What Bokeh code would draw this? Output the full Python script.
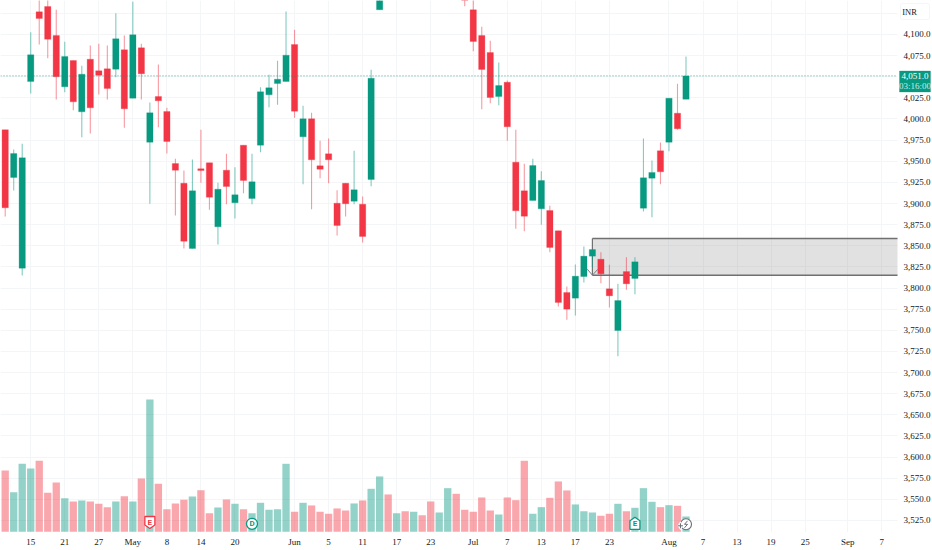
from bokeh.plotting import figure
from bokeh.models import (ColumnDataSource, Range1d, LinearAxis, FixedTicker, NumeralTickFormatter,
                          BoxAnnotation, Label)
from bokeh.core.properties import value
from bokeh.embed import file_html
from bokeh.resources import INLINE

# daily candles: red/green is derived from open vs close
opens = [3987.2,3930.8,3823.5,4044.4,4126.8,4133.1,4098.8,4038.1,4069.2,4008.5,4070.7,4057.0,4059.4,4058.9,4081.9,4024.6,4084.2,
         3972.5,4026.6,4008.9,3947.3,3924.0,3846.8,3941.1,3948.2,3872.4,3939.4,3900.8,3969.0,3905.9,3969.0,4028.6,4042.0,4044.4,
         4088.1,3978.9,4000.2,3944.6,3958.8,3900.4,3924.0,3902.7,3899.2,3928.4,4129.2,
         4178,4160,4172,4165,4180,4172,4160,4175,4195,4175,
         4129.2,4098.8,4078.7,4026.6,4043.5,3948.9,3915.0,3903.6,3893.7,3891.7,3867.7,3794.7,3788.0,3813.6,3837.7,3834.1,3799.1,
         3749.7,3819.5,3811.3,3894.5,3930.0,3962.4,3972.5,4006.9,4023.4]
closes = [3894.9,3959.2,3954.1,4076.0,4118.9,4094.4,4049.9,4073.9,4020.3,4053.0,4013.2,4051.8,4036.0,4094.9,4012.0,4099.6,4053.5,
          4007.3,4021.5,3973.4,3939.4,3855.4,3915.0,3939.0,3907.5,3916.9,3920.1,3910.3,3927.2,3925.7,4032.2,4036.9,4047.1,4075.5,
          4009.2,4000.2,3951.7,3940.6,3951.7,3874.0,3899.7,3916.2,3861.0,4048.3,4175,
          4160,4172,4165,4180,4172,4160,4175,4195,4175,4150,
          4091.7,4058.6,4025.4,4039.6,3990.8,3891.4,3885.0,3945.0,3927.2,3848.0,3782.9,3775.0,3814.0,3837.7,3845.6,3816.8,3790.8,
          3785.2,3805.0,3831.0,3930.4,3936.7,3937.5,4024.6,3988.4,4051.0]
highs = [3987.2,3963.9,3970.6,4102.7,4143.7,4146.0,4129.2,4091.3,4069.2,4062.9,4087.0,4089.0,4087.0,4125.2,4098.8,4138.7,4089.0,
         4019.5,4064.5,4013.2,3952.9,3939.0,3952.1,3987.2,3948.2,3924.5,3958.8,3943.0,3969.0,3958.8,4037.6,4052.3,4068.9,4127.2,
         4105.5,4015.6,4007.3,3974.2,3976.9,3915.7,3924.0,3962.4,3908.3,4058.2,4190,
         4185,4180,4178,4188,4186,4178,4182,4200,4200,4180,
         4142.0,4109.1,4092.5,4066.8,4045.5,3987.2,3947.0,3952.9,3938.2,3897.3,3867.7,3801.8,3827.8,3849.1,3845.6,3842.4,3827.5,
         3805.0,3836.5,3836.5,3976.9,3950.9,3972.2,4024.6,4041.6,4074.0]
lows = [3884.6,3915.4,3814.8,4030.2,4088.1,4071.9,4023.1,4031.7,4010.4,3978.5,3982.8,4029.0,4023.1,4049.4,3989.6,4024.6,4023.1,
        3899.7,3990.3,3959.2,3885.8,3846.8,3846.8,3924.5,3892.6,3851.5,3899.2,3882.3,3912.2,3899.2,3960.7,4013.9,4016.8,4044.4,
        4001.4,3922.9,3893.3,3929.9,3924.0,3862.2,3884.6,3899.2,3853.9,3920.5,4129.2,
        4150,4152,4155,4160,4158,4152,4155,4170,4165,4133.5,
        4080.2,4011.6,4018.7,4016.3,3974.2,3870.1,3867.2,3903.6,3874.8,3842.4,3778.1,3762.4,3767.5,3806.5,3825.0,3805.7,3777.0,
        3719.3,3797.9,3792.7,3890.5,3883.8,3922.9,3961.9,3987.2,4023.4]
volumes = [1227,793,1360,1267,1420,780,987,673,607,627,607,560,493,607,713,607,1067,2647,960,453,567,640,707,833,373,487,647,560,453,
           373,580,440,453,1360,400,580,527,400,360,467,427,567,627,860,1107,747,373,413,400,333,607,387,873,760,440,400,687,427,347,
           687,633,1420,360,493,680,1007,827,547,413,387,320,360,560,413,480,873,600,493,533,520,307]

# date axis: bar index -> label
tick_bars = [3,7,11,15,19,23,27,34,38,42,46,50,55,59,63,67,71,78,82,86,90,94,99,103]
tick_labels = ["15","21","27","May","8","14","20","Jun","5","11","17","23","Jul","7","13","17","23","Aug","7","13","19","25","Sep","7"]
price_ticks = [3525 + 25*k for k in range(25)]
hidden_price_labels = [4050, 4125]

last_price = 4051.0
zone_start_bar = 69
zone_top = 3858.6
zone_bottom = 3815.2

UP, DOWN = "#089981", "#f23645"
PX = 8.51          # pixels per bar
W, H = 932, 550
BOTTOM = 18
PANE_H = H - BOTTOM
PANE_W = 897       # chart pane width, price scale lives right of it
VOL_PER_PX = 20    # volume units per pixel


def sy(py):
    # screen units of annotations count up from the pane's bottom
    return PANE_H - py


n = len(opens)
bars = list(range(n))
is_up = [c >= o for o, c in zip(opens, closes)]
colors = [UP if u else DOWN for u in is_up]

x0 = -4.7 / PX
x1 = x0 + W / PX
pane_right = x0 + PANE_W / PX
y1 = 4140.2
y0 = y1 - PANE_H * 1.1832

vol_src = ColumnDataSource(dict(x=bars, v=volumes, col=colors))
on_screen = [i for i in bars if lows[i] < y1]
src = ColumnDataSource(dict(
    x=on_screen,
    h=[highs[i] for i in on_screen],
    l=[lows[i] for i in on_screen],
    top=[max(opens[i], closes[i]) for i in on_screen],
    bot=[min(opens[i], closes[i]) for i in on_screen],
    col=[colors[i] for i in on_screen],
))

p = figure(width=W, height=H, output_backend="svg", toolbar_location=None,
           x_range=Range1d(x0, x1), y_range=Range1d(y0, y1), y_axis_location=None,
           min_border_left=0, min_border_top=0, min_border_right=0, min_border_bottom=BOTTOM,
           background_fill_color="white", border_fill_color="white", outline_line_color=None)

p.extra_y_ranges = {"vol": Range1d(-14, PANE_H * VOL_PER_PX - 14)}

FONT = "Liberation Sans Narrow"
TEXT = "#131722"

ax = LinearAxis(fixed_location=pane_right)
ax.ticker = FixedTicker(ticks=price_ticks + [4125])
ax.formatter = NumeralTickFormatter(format="0,0.0")
ax.major_label_overrides = {v: "" for v in hidden_price_labels}
ax.axis_line_color = None
ax.major_tick_line_color = None
ax.minor_tick_line_color = None
ax.major_tick_out = 0
ax.major_label_standoff = 6
ax.major_label_text_font = FONT
ax.major_label_text_font_size = "9px"
ax.major_label_text_color = TEXT
p.add_layout(ax, "right")

bx = p.xaxis[0]
bx.ticker = FixedTicker(ticks=tick_bars)
bx.major_label_overrides = dict(zip(tick_bars, tick_labels))
bx.axis_line_color = None
bx.major_tick_line_color = None
bx.minor_tick_line_color = None
bx.major_tick_out = 0
bx.major_label_standoff = 4
bx.major_label_text_font = FONT
bx.major_label_text_font_size = "9px"
bx.major_label_text_color = TEXT

p.xgrid.grid_line_color = "#f4f5f7"
p.ygrid.ticker = FixedTicker(ticks=price_ticks + [4125])
p.ygrid.grid_line_color = "#f4f5f7"
p.xgrid.ticker = FixedTicker(ticks=tick_bars)

# price-scale background covers the grid right of the pane
p.quad(left=pane_right, right=x1 + 1, top=y1 + 50, bottom=y0 - 50, fill_color="white", line_color=None)

# volume
p.vbar(x="x", width=0.86, top="v", bottom=0, source=vol_src, y_range_name="vol",
       fill_color="col", fill_alpha=0.44, line_color=None)

# drawn zone
p.quad(left=zone_start_bar, right=pane_right, top=zone_top, bottom=zone_bottom,
       fill_color="#808080", fill_alpha=0.24, line_color=None)
p.segment(x0=[zone_start_bar]*2, x1=[pane_right]*2, y0=[zone_top, zone_bottom], y1=[zone_top, zone_bottom],
          line_color="#707070", line_width=1.4)
p.segment(x0=[zone_start_bar], x1=[zone_start_bar], y0=[zone_bottom], y1=[zone_top],
          line_color="#707070", line_width=1.2)
p.line(x=[zone_start_bar - 5/PX, zone_start_bar, zone_start_bar + 5.5/PX],
       y=[zone_bottom + 7, zone_bottom, zone_bottom + 7], line_color="#787b86", line_width=1)

# candles
p.segment(x0="x", x1="x", y0="l", y1="h", source=src, line_color="col", line_alpha=0.5, line_width=1.1)
p.vbar(x="x", width=0.74, top="top", bottom="bot", source=src, fill_color="col",
       line_color="col", line_alpha=0.35, line_width=0.8)

# last price line
p.segment(x0=[x0], x1=[pane_right], y0=[last_price], y1=[last_price], line_color=UP, line_dash="1 2",
          line_width=1, line_alpha=0.8)


def marker_patch(bar, lift, pts, color):
    p.patch(x=[bar + a/PX for a, _ in pts], y=[(lift + b)*VOL_PER_PX for _, b in pts],
            y_range_name="vol", fill_color="white", line_color=color, line_width=1.3)


def marker_text(bar, lift, s, color, size="8px"):
    p.text(x=[bar], y=[lift*VOL_PER_PX], text=[s], y_range_name="vol", text_color=color, text_font=value("Roboto"),
           text_font_size=size, text_font_style="bold", text_align="center", text_baseline="middle")


# earnings / dividend / flash markers along the volume pane
marker_patch(17, 9.3, [(-5, 6), (5, 6), (5, -2.5), (0, -6), (-5, -2.5)], DOWN)
marker_text(17, 9.3, "E", DOWN)
marker_patch(74, 8.5, [(-5, -6), (5, -6), (5, 2.5), (0, 6), (-5, 2.5)], UP)
marker_text(74, 8.5, "E", UP)
p.scatter(x=[29], y=[8*VOL_PER_PX], y_range_name="vol", marker="circle", size=11, fill_color="white",
          line_color=UP, line_width=1.3)
marker_text(29, 8, "D", UP)
p.scatter(x=[80], y=[7.5*VOL_PER_PX], y_range_name="vol", marker="circle", size=11, fill_color="white",
          line_color="#6a6d78", line_width=1.1)
p.line(x=[80 + a/PX for a in (1.5, -1.5, 1.5, -1.5)], y=[(7.5 + b)*VOL_PER_PX for b in (3.5, 0, 0, -3.5)],
       y_range_name="vol", line_color="#6a6d78", line_width=1)
p.scatter(x=[79.35], y=[6*VOL_PER_PX], y_range_name="vol", marker="diamond", size=9, fill_color="white", line_color=None)
p.scatter(x=[79.35], y=[6*VOL_PER_PX], y_range_name="vol", marker="cross", size=5, line_color="#6a6d78", line_width=1)

# price-scale overlays
p.add_layout(BoxAnnotation(left=899, right=930, top=sy(70.5), bottom=sy(91.5), left_units="screen", right_units="screen",
                           top_units="screen", bottom_units="screen", fill_color=UP, fill_alpha=1, line_color=UP))
p.add_layout(Label(x=914.5, y=sy(75.5), x_units="screen", y_units="screen", text="4,051.0", text_color="white",
                   text_font=FONT, text_font_size="9px", text_align="center", text_baseline="middle"))
p.add_layout(Label(x=914.5, y=sy(85.5), x_units="screen", y_units="screen", text="03:16:00", text_color="#cfeae5",
                   text_font=FONT, text_font_size="9px", text_align="center", text_baseline="middle"))
p.add_layout(BoxAnnotation(left=900, right=929, top=sy(3), bottom=sy(19), left_units="screen", right_units="screen",
                           top_units="screen", bottom_units="screen", fill_color="white", fill_alpha=1,
                           line_color="#dfe1e6", line_width=1, border_radius=2))
p.add_layout(Label(x=909, y=sy(11), x_units="screen", y_units="screen", text="INR", text_color=TEXT,
                   text_font=FONT, text_font_size="8.5px", text_align="center", text_baseline="middle"))

open("out.html", "w").write(file_html(p, INLINE))
